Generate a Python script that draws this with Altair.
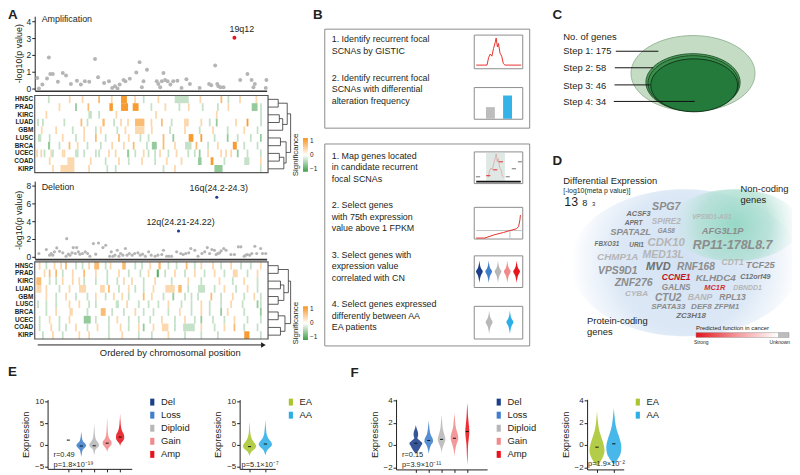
import altair as alt
import pandas as pd

# ------------------------------------------------------------------ data
CANCERS = ["HNSC", "PRAD", "KIRC", "LUAD", "GBM", "LUSC", "BRCA", "UCEC", "COAD", "KIRP"]

AMP_POS = [1.1, 1.8, 3.3, 5.3, 6.1, 6.7, 7.8, 10.0, 12.1, 13.5, 15.6, 18.2, 19.9, 21.6, 23.5, 26.0, 27.3, 29.9, 32.0, 33.4,
           34.6, 35.7, 36.6, 38.3, 39.1, 41.0, 43.8, 45.2, 46.2, 46.9, 48.4, 52.6, 53.3, 54.1, 54.8, 55.5, 56.2, 57.3, 58.5, 59.7,
           61.5, 63.3, 65.4, 66.9, 71.1, 75.2, 76.1, 77.8, 78.7, 79.2, 80.1, 81.4, 86.1, 88.6, 91.7, 93.5, 94.3, 94.9, 99.6, 99.9]
AMP_LOGP = [0.63, 0.0, 0.24, 0.6, 1.84, 0.86, 0.86, 0.4, 0.92, 0.78, 0.27, 0.47, 0.24, 0.43, 0.4, 1.76, 0.67, 0.33, 0.43, 0.04,
            0.14, 0.0, 0.24, 0.51, 0.43, 0.59, 0.96, 1.57, 0.08, 0.43, 1.12, 0.43, 0.27, 0.08, 0.43, 0.92, 0.51, 0.43, 0.24, 0.43,
            0.47, 0.04, 0.55, 0.27, 0.04, 0.27, 0.2, 1.37, 0.27, 0.14, 0.08, 0.08, 3.02, 0.51, 0.86, 0.51, 0.08, 0.27, 0.04, 0.51]
AMP_HIGHLIGHT = {"19q12": 52}

DEL_POS = [1.8, 5.0, 6.4, 7.1, 7.8, 8.5, 9.5, 10.7, 12.1, 13.5, 13.8, 14.5, 15.2, 16.1, 16.6, 17.5, 18.1, 18.8, 19.5, 20.6,
           21.8, 22.8, 23.8, 25.3, 26.3, 27.5, 29.4, 30.6, 32.3, 33.0, 33.7, 34.6, 35.6, 36.3, 37.0, 38.0, 39.1, 39.8, 40.8, 42.0,
           43.1, 44.5, 45.5, 46.5, 47.7, 49.1, 50.2, 51.9, 53.1, 54.8, 55.5, 56.9, 57.9, 59.0, 61.2, 62.0, 63.0, 64.0, 65.1, 66.4,
           67.3, 69.0, 70.4, 72.1, 73.3, 74.4, 75.4, 76.4, 77.5, 78.2, 78.5, 78.9, 79.7, 80.4, 81.5, 82.5, 84.6, 86.1, 87.8, 88.9,
           90.3, 91.0, 91.7, 92.7, 93.6, 94.9, 95.7, 97.4, 98.2, 99.6]
DEL_LOGP = [0.37, 0.82, 0.19, 0.37, 0.19, 0.56, 1.0, 0.63, 0.45, 0.07, 2.04, 0.3, 0.19, 0.45, 1.04, 0.37, 1.04, 0.56, 0.3, 0.37,
            0.56, 0.37, 0.07, 1.49, 0.3, 1.56, 1.04, 1.3, 0.07, 0.56, 0.07, 0.19, 0.74, 0.07, 0.37, 0.19, 0.93, 0.19, 0.37, 0.19,
            0.37, 0.45, 0.19, 0.3, 0.07, 0.56, 0.19, 0.07, 0.19, 0.26, 0.74, 0.07, 0.07, 0.07, 0.56, 2.9, 0.37, 0.26, 0.37, 0.45,
            0.93, 0.74, 0.07, 0.37, 0.56, 1.04, 0.37, 0.82, 0.74, 0.26, 6.69, 0.37, 0.45, 0.67, 0.93, 0.74, 0.26, 0.26, 1.12, 1.12,
            0.07, 0.19, 0.26, 0.19, 0.37, 1.19, 0.37, 0.93, 0.37, 0.37]
DEL_HIGHLIGHT = {"12q(24.21-24.22)": 55, "16q(24.2-24.3)": 70}

# heatmap significance codes: position[:code] or start-end:code along the chromosome order (0-100)
HEAT_LEVEL = {"1": 0.36, "2": 0.62, "3": 0.92, "a": -0.3, "b": -0.55, "c": -0.85}
AMP_HEAT = {
    "HNSC": "6:a 15:1 20.5:1 27.6:2 33:1 37-39.5:3 43:1 46.7:a 53:1 60-66:a 71:1 80:2 83:a 88:1 95:1",
    "PRAD": "10.6:1 17.7:b 23:2 32-33.5:3 37-40:3 42-44.5:3 50:a 56:1 62:a 66:1 72:a 78.5:a 83:1 93-95.5:b 97:a",
    "KIRC": "5:1 23-24.5:a 27.6:a 35:1 52:1 78:1 97:a",
    "LUAD": "1.4:a 3.5:a 12.7:a 20:2 22.6:a 29-30:2 34:a 37:1 40:1 43-47:2 50:1 54.5:2 58.7:a 64-66:1 71.4:1 75:a 78:b 86.3:1 91.2:3 97:a",
    "GBM": "3:1 9.2:1 16.3:a 21.2:1 26.2:a 28.3:1 35.4:a 38.9:1 43-47:1 50.2:1 58:a 64.4:1 70.7:a 76.4:1 82.7:a 89.8:1 95.5:a",
    "LUSC": "1.4-2.8:a 6.4:a 12:1 17.7:a 21.2:1 26.2:2 30.4:a 36.1:2 40.3:1 45.3:a 48.8:a 55.2:2 59.4:b 66-68:3 71.4:3 77.1:a 82.7:b 87:a 92.6:a 96.9:b",
    "BRCA": "5.7-6.6:b 10.6:a 14.9:2 18.4:1 22.6:a 28.3:a 33.2:1 38.2:1 42.4:2 48.1:a 50.2-52.3:b 55.2:2 60.1:1 64.4-67.2:a 69.3:2 74.3:a 78.5:1 84.9-86.6:3 89.8:a 95.5:a",
    "UCEC": "1:1 2.8:1 4.2:a 7.1:1 7.8:a 12:1 12.7:1 17.7:a 18.4:a 21.2:a 26.2:a 27.6:a 31.8:1 34.7:1 39.6-40.5:b 43.1:a 46.7:1 48.8:a 51.6:a 53.7:1 57.3:a 60.8:1 65.8:a 68.6:a 70.7:b 74.3:1 79.9:1 82:1 84.2:1 87:b 91.2:a 96.9:a",
    "COAD": "6.4:1 14-17:1 24:1 30.4:a 36.1:1 40.3:a 46:1 51.6:a 56.6:1 62.9:1 70-71.5:b 75.4-76.6:3 81.3:a 89.8-92:a 96.9:1",
    "KIRP": "7.8:1 11-17:1 23.3:1 31.1:a 34.7:a 55.2:a 60.1:1 77-80.5:b 96.9:a",
}
DEL_HEAT = {
    "HNSC": "2.1:1 5:a 8.5:1 11.3:1 13.4:2 17.7:a 20.5:a 23.3:1 25.5-27.6:2 30.4:a 32.5:1 37.5-39:2 43.1:a 46:a 49.5:1 53-54:2 57.3:a 60.8:a 65.1:2 68.6:a 71.4:1 76.4:1 79.9:a 84.2:1 88.4:a 92.6:a 96.9:1",
    "PRAD": "4.2:1 6.4:2 9.2:2 12:a 16.3:1 21.2:2 26.2:1 31.1:a 36.1:1 40.3:a 45.3:a 48.8:1 52.3-53.2:c 55.9:a 60.1:1 64.4:a 68.6:1 72.8:a 77.1:1 81.3:a 84.9-87:1 91.2:a 95.5:1",
    "KIRC": "0.7-2.8:2 6.4:a 9.2:a 12:1 16.3:1 19.1:1 21.2:a 26.2:a 31.1:a 35.4:a 38.2:1 41.7:1 46.7:a 51.6:1 58.7:a 65.8:1 71.4:a 79.2:1 84.9:a 89.8:1 95.5:a",
    "LUAD": "0.7-2.8:1 5:1 10.6:a 14.9:1 19-22:1 28-30:1 31.8:2 36.1:a 40.3:1 43.1:a 46.7:a 50.9:1 56-60:1 61.5-63:2 65.8:a 70-73:a 77.1:a 81.3:1 86.3:a 91.2:1 95.5:a",
    "GBM": "5:1 9.2:a 13.4:1 17.7:a 22.6:a 26.2:1 30.4:a 33.9:1 37.5:1 40.3:a 46.7:2 50.2:1 55.2:a 59.4:b 64.4:a 67.2:a 70:a 75.7:2 79.9:a 84.9:1 89.8:a 94.1:1 96.9:a",
    "LUSC": "1.4:a 5:a 9.2:a 14.9:1 19.1:1 23.3:a 26.2:a 34.7-36.1:a 39.6:1 44.6:a 48.8:a 53:a 57.3:1 62.9:a 67.2:a 71.4:1 75:a 79.9:a 84.2:1 89.1:a 95.5:b 96.9:a",
    "BRCA": "5:a 9.2:1 14.9-16.3:1 22.6:a 28.3-30.4:2 33.2:a 38.2:a 43.1:1 46.7:a 50.9:a 57.3:a 62.2:1 67.2:a 71.4:1 75:a 79.9:b 82.7:1 89.8:a 96.9:b",
    "UCEC": "2.1:a 6.4:1 10.6:a 14.9:1 21-24:b 26.2:a 31.8:a 35.4:1 40.3:a 44.6:a 49.5:a 54.5:1 60.1:a 64.4:1 68.6:a 71.4:b 76.4:a 81.3:a 85.6:1 91.2:a 96.9:a",
    "COAD": "2.1:a 7.1:1 10.6:a 13.4:a 17.7:1 22.6:a 26.9:1 31.8:a 36.8:1 40.3:a 44.6:1 46.7:b 50.9:1 54.5-57.3:1 60.1:a 63.6-68.6:a 71.4:1 77.1:a 81.3:1 85.6:2 89.8:a 95.5:a",
    "KIRP": "3.5:a 7.8:1 12:a 19.1:1 23.3:1 31.8:a 37.5:1 44.6:a 50.2:a 57.3:1 64.4:a 71.4:a 78.5:a 89.8-92:3 96.9:a",
}
# hierarchical clustering of cancer types: (left, right, merge height); merges referenced as m<index>
AMP_TREE = [("HNSC", "PRAD", 0.45), ("KIRC", "LUAD", 0.5), ("m1", "GBM", 0.65), ("m0", "m2", 0.85),
            ("LUSC", "BRCA", 0.55), ("UCEC", "COAD", 0.5), ("m5", "KIRP", 0.7), ("m4", "m6", 0.8), ("m3", "m7", 1.0)]
DEL_TREE = [("HNSC", "PRAD", 0.45), ("KIRC", "LUAD", 0.55), ("GBM", "LUSC", 0.45), ("m1", "m2", 0.7),
            ("m0", "m3", 0.9), ("BRCA", "UCEC", 0.45), ("COAD", "KIRP", 0.55), ("m5", "m6", 0.75), ("m4", "m7", 1.0)]

B_STEPS_SCNA = ["1. Identify recurrent focal\nSCNAs by GISTIC",
                "2. Identify recurrent focal\nSCNAs with differential\nalteration frequency"]
B_STEPS_GENE = ["1. Map genes located\nin candidate recurrent\nfocal SCNAs",
                "2. Select genes\nwith 75th expression\nvalue above 1 FPKM",
                "3. Select genes with\nexpression value\ncorrelated with CN",
                "4. Select genes expressed\ndifferently between AA\nEA patients"]
GISTIC_X = [0, 33, 38, 43, 48, 53, 58, 61, 65, 68, 73, 78, 83, 88, 138]
GISTIC_Y = [0, 0, 0.28, 0.41, 0.33, 0.61, 0.83, 1.0, 0.67, 0.8, 0.44, 0.33, 0.06, 0, 0]
FREQ_GROUPS = ["EA", "AA"]
FREQ_VALUES = [0.5, 1.0]
MAP_GENE_X = [0.06, 0.28, 0.43, 0.55, 0.70, 0.83, 0.96]
MAP_GENE_CN = [0.14, 0.18, 0.39, 0.68, 0.14, 0.43, 0.68]
MAP_GENE_IN = [False, True, True, True, False, False, False]
FPKM_RANK = [0, 0.19, 0.4, 0.6, 0.74, 0.88, 0.93, 0.96, 0.97]
FPKM_VALUE = [0, 0, 0.44, 0.74, 1.0, 1.22, 1.54, 2.41, 3.07]
FPKM_CUTOFF = 1.0

STEP_COUNTS = [175, 58, 46, 34]

GENES = ["SPG7", "ACSF3", "APRT", "SPIRE2", "SPATA2L", "GAS8", "FBXO31", "URI1", "CDK10", "CHMP1A", "MED13L",
         "VPS9D1", "MVD", "RNF168", "CDT1", "TCF25", "ZNF276", "CCNE1", "KLHDC4", "C12orf49", "GALNS", "MC1R",
         "DBNDD1", "CYBA", "CTU2", "BANP", "RPL13", "SPATA33", "DEF8", "ZFPM1", "ZC3H18", "VPS9D1-AS1", "AFG3L1P",
         "RP11-178L8.7"]
GENE_SIG = [10.4, 5.2, 4.1, 6.5, 8.4, 3.6, 3.6, 3.8, 11.5, 9.0, 10.1, 9.8, 11.0, 9.6, 7.0, 8.5, 10.1, 7.0, 9.2, 4.8,
            6.5, 5.3, 4.4, 6.4, 9.5, 7.3, 7.0, 6.2, 6.4, 5.6, 6.2, 3.8, 8.2, 13.0]
GENE_FUNC = ["mid", "dark", "dark", "light", "mid", "mid", "dark", "dark", "light", "light", "light",
             "mid", "dark", "mid", "light", "mid", "mid", "strong", "mid", "dark", "mid", "moderate",
             "light", "light", "mid", "light", "mid", "mid", "mid", "mid", "dark", "light", "mid", "mid"]
SIG_KEY = [13, 8, 3]

CN_GROUPS = ["Del", "Loss", "Diploid", "Gain", "Amp"]
RACE_GROUPS = ["EA", "AA"]
# violin outlines: (expression, half width in category units)
E_CN_PROFILE = {
    "Del": [],
    "Loss": [(-2.8, 0), (-2.0, 0.04), (-1.2, 0.1), (-0.6, 0.28), (-0.2, 0.38), (0.3, 0.3), (0.8, 0.14), (1.5, 0.06), (2.3, 0.03), (3.0, 0)],
    "Diploid": [(-2.4, 0), (-1.6, 0.05), (-0.9, 0.14), (-0.4, 0.33), (0.0, 0.38), (0.5, 0.3), (1.2, 0.14), (2.2, 0.06), (3.5, 0.03), (4.8, 0)],
    "Gain": [(-1.7, 0), (-1.0, 0.06), (-0.4, 0.2), (0.2, 0.34), (0.7, 0.34), (1.3, 0.2), (2.2, 0.08), (3.5, 0.04), (5.0, 0.02), (6.3, 0)],
    "Amp": [(-0.3, 0), (0.3, 0.06), (0.9, 0.22), (1.6, 0.32), (2.3, 0.3), (3.0, 0.18), (3.8, 0.09), (5.0, 0.04), (7.2, 0)],
}
E_CN_MEDIAN = [1.1, -0.25, -0.2, 0.4, 1.8]
E_RACE_PROFILE = {
    "EA": [(-2.6, 0), (-2.0, 0.05), (-1.4, 0.16), (-0.8, 0.35), (-0.3, 0.42), (0.3, 0.34), (1.0, 0.2), (1.8, 0.1), (3.0, 0.04), (4.3, 0.02), (5.4, 0)],
    "AA": [(-2.4, 0), (-1.8, 0.05), (-1.1, 0.14), (-0.5, 0.32), (0.1, 0.42), (0.7, 0.35), (1.4, 0.2), (2.2, 0.1), (3.3, 0.05), (4.6, 0.02), (5.8, 0)],
}
E_RACE_MEDIAN = [-0.4, 0.2]
F_CN_PROFILE = {
    "Del": [(-0.8, 0), (-0.5, 0.2), (-0.1, 0.4), (0.15, 0.5), (0.4, 0.3), (0.6, 0.12), (0.9, 0.18), (1.2, 0.15), (1.5, 0.06), (1.8, 0)],
    "Loss": [(-0.8, 0), (-0.4, 0.06), (0.0, 0.18), (0.3, 0.34), (0.6, 0.3), (0.9, 0.16), (1.3, 0.08), (1.7, 0.04), (2.2, 0)],
    "Diploid": [(-0.8, 0), (-0.3, 0.06), (0.1, 0.2), (0.5, 0.3), (0.9, 0.22), (1.4, 0.1), (2.0, 0.05), (2.7, 0)],
    "Gain": [(-1.1, 0), (-0.5, 0.05), (0.1, 0.18), (0.6, 0.3), (1.0, 0.25), (1.5, 0.12), (2.2, 0.05), (2.9, 0)],
    "Amp": [(-1.75, 0), (-1.0, 0.03), (0.0, 0.06), (0.6, 0.12), (1.2, 0.16), (1.8, 0.12), (2.5, 0.06), (3.2, 0.03), (3.8, 0)],
}
F_CN_MEDIAN = [0.15, 0.4, 0.5, 0.6, 1.2]
F_RACE_PROFILE = {
    "EA": [(-1.9, 0), (-1.5, 0.2), (-1.0, 0.38), (-0.5, 0.45), (0.0, 0.4), (0.6, 0.28), (1.2, 0.15), (2.0, 0.06), (3.1, 0)],
    "AA": [(-1.75, 0), (-1.3, 0.22), (-0.8, 0.4), (-0.2, 0.45), (0.4, 0.38), (1.0, 0.25), (1.7, 0.12), (2.5, 0.05), (3.3, 0)],
}
F_RACE_MEDIAN = [-0.2, 0.1]
E_CN_STATS = ["r=0.49", "p=1.8×10⁻¹⁹"]
E_RACE_STATS = ["p=5.1×10⁻⁷"]
F_CN_STATS = ["r=0.15", "p=3.9×10⁻¹¹"]
F_RACE_STATS = ["p=1.9×10⁻²"]

# ------------------------------------------------------------------ style / layout
OFF = 8
W, H = 792, 467
FONT = "Liberation Sans"
INK = "#231f20"
ORANGE, GREEN = "#f7931e", "#3f9e4a"
CN_COLORS = ["#1b3f8b", "#3f7fcb", "#b7b7b7", "#f28a8c", "#e8141c"]
RACE_COLORS = ["#a9c62f", "#2eaee6"]
FUNC_CLASSES = ["strong", "moderate", "dark", "mid", "light"]
FUNC_COLORS = ["#c3121d", "#cf2f37", "#6f6f6f", "#8c8c8c", "#b5b5b5"]
SWATCH = "M-0.6,-1 L0.6,-1 L0.6,1 L-0.6,1 Z"
VIOLIN_GLYPH = ("M0,-1 C0.04,-0.6 0.08,-0.35 0.26,-0.12 C0.36,0 0.26,0.12 0.15,0.3 "
                "C0.07,0.5 0.03,0.75 0,1 C-0.03,0.75 -0.07,0.5 -0.15,0.3 C-0.26,0.12 -0.36,0 -0.26,-0.12 "
                "C-0.08,-0.35 -0.04,-0.6 0,-1 Z")
THIN = 0.38  # half width of a single heat-map bar, chromosome-order units


def ellipse_path(r):
    k = 0.5523
    return (f"M-1,0 C-1,{-k*r:.3f} {-k:.3f},{-r:.3f} 0,{-r:.3f} C{k:.3f},{-r:.3f} 1,{-k*r:.3f} 1,0 "
            f"C1,{k*r:.3f} {k:.3f},{r:.3f} 0,{r:.3f} C{-k:.3f},{r:.3f} -1,{k*r:.3f} -1,0 Z")


def lin(domain, p0, p1):
    return alt.Scale(domain=list(domain), range=[p0 - OFF, p1 - OFF], nice=False, zero=False)


PXX = alt.Scale(domain=[OFF, OFF + W], range=[0, W], nice=False, zero=False)
PXY = alt.Scale(domain=[OFF, OFF + H], range=[0, H], nice=False, zero=False)
ONE = pd.DataFrame({"k": [0]})


def texts(rows, size=9, color=INK, align="left", baseline="middle", weight="normal", style="normal", line_height=None):
    df = pd.DataFrame(rows, columns=["x", "y", "t"])
    kw = dict(font=FONT, fontSize=size, color=color, align=align, baseline=baseline, fontWeight=weight, fontStyle=style)
    if line_height:
        kw.update(lineBreak="\n", lineHeight=line_height)
    return alt.Chart(df).mark_text(**kw).encode(
        x=alt.X("x:Q", scale=PXX, axis=None), y=alt.Y("y:Q", scale=PXY, axis=None), text="t:N")


def frames(rows, stroke="#8c8c8c", width=1.0):
    df = pd.DataFrame(rows, columns=["x0", "y0", "x1", "y1"])
    return alt.Chart(df).mark_rect(fill="transparent", stroke=stroke, strokeWidth=width).encode(
        x=alt.X("x0:Q", scale=PXX, axis=None), x2="x1:Q", y=alt.Y("y0:Q", scale=PXY, axis=None), y2="y1:Q")


def segments(rows, color=INK, width=1.0):
    df = pd.DataFrame(rows, columns=["x0", "y0", "x1", "y1"])
    return alt.Chart(df).mark_rule(color=color, strokeWidth=width).encode(
        x=alt.X("x0:Q", scale=PXX, axis=None), x2="x1:Q", y=alt.Y("y0:Q", scale=PXY, axis=None), y2="y1:Q")


def heat_df(rows):
    recs = []
    for cancer, spec in rows.items():
        for tok in spec.split():
            span, code = tok.split(":")
            if "-" in span:
                a, b = (float(s) for s in span.split("-"))
            else:
                c = float(span)
                a, b = c - THIN, c + THIN
            recs.append({"cancer": cancer, "x0": a, "x1": b, "v": HEAT_LEVEL[code]})
    return pd.DataFrame(recs)


def tree_df(merges):
    ypos = {c: float(i) for i, c in enumerate(CANCERS)}
    hgt = {c: 0.0 for c in CANCERS}
    segs = []
    for k, (a, b, h) in enumerate(merges):
        for n in (a, b):
            segs.append({"x0": hgt[n], "x1": h, "y0": ypos[n], "y1": ypos[n]})
        segs.append({"x0": h, "x1": h, "y0": ypos[a], "y1": ypos[b]})
        ypos[f"m{k}"] = (ypos[a] + ypos[b]) / 2
        hgt[f"m{k}"] = h
    return pd.DataFrame(segs)


layers = []

# ---------------- panel letters
layers.append(texts([(8, 13, "A"), (316, 13, "B"), (558, 13, "C"), (558, 160, "D"), (8, 373, "E"), (354, 374, "F")],
                    size=13.5, weight="bold"))


# ---------------- panel A
def scatter(pos, logp, hits, ydom, ypx, ticks, size, hit_color, dx, align):
    df = pd.DataFrame({"pos": pos, "logp": logp})
    df["kind"] = "other"
    df["label"] = ""
    for name, i in hits.items():
        df.loc[i, "kind"] = "hit"
        df.loc[i, "label"] = name
    xs = lin((0, 100), 35, 269.3)
    ys = lin(ydom, *ypx)
    pts = alt.Chart(df).mark_circle(size=size, opacity=1).encode(
        x=alt.X("pos:Q", scale=xs, axis=alt.Axis(orient="bottom", offset=(ypx[0] + 0.5 - OFF) - H, labels=False,
                                                 ticks=False, title=None, domainWidth=1.6, domainColor="#333")),
        y=alt.Y("logp:Q", scale=ys, axis=alt.Axis(orient="left", offset=-(35 - OFF), values=ticks, title="-log10(p value)",
                                                  titleFontSize=9, titleFontWeight="normal", labelFontSize=8.5,
                                                  tickSize=3, labelPadding=1, titlePadding=3)),
        color=alt.Color("kind:N", scale=alt.Scale(domain=["other", "hit"], range=["#b5b5b5", hit_color]), legend=None))
    lab = alt.Chart(df).transform_filter(alt.datum.label != "").mark_text(
        font=FONT, fontSize=9, color=INK, dy=-9, dx=dx, align=align).encode(
        x=alt.X("pos:Q", scale=xs, axis=None), y=alt.Y("logp:Q", scale=ys, axis=None), text="label:N")
    return [pts, lab]


def heat(rows, top, bottom, legend_y):
    return alt.Chart(heat_df(rows)).mark_rect().encode(
        x=alt.X("x0:Q", scale=lin((0, 100), 35, 270.7), axis=None), x2="x1:Q",
        y=alt.Y("cancer:N", scale=alt.Scale(domain=CANCERS, range=[top - OFF, bottom - OFF], paddingInner=0, paddingOuter=0),
                axis=alt.Axis(orient="left", offset=-(35 - OFF), domain=False, ticks=False, title=None,
                              labelFontSize=6.5, labelFontWeight="bold", labelPadding=2)),
        color=alt.Color("v:Q", scale=alt.Scale(domain=[-1, 0, 1], range=[GREEN, "#ffffff", ORANGE], interpolate="rgb"),
                        legend=alt.Legend(orient="none", legendX=295 - OFF, legendY=legend_y - OFF, direction="vertical",
                                          title="Significance", titleOrient="left", titleAnchor="middle",
                                          titleFontSize=8, titleFontWeight="normal", titlePadding=2,
                                          gradientLength=34, gradientThickness=5, gradientStrokeWidth=0,
                                          labelFontSize=6.5, labelOffset=2, values=[-1, 0, 1], padding=0)))


def tree(merges, top, bottom):
    return alt.Chart(tree_df(merges)).mark_rule(color="#333", strokeWidth=0.8).encode(
        x=alt.X("x0:Q", scale=lin((0, 1), 270.7, 293.5), axis=None), x2="x1:Q",
        y=alt.Y("y0:Q", scale=lin((-0.5, 9.5), top, bottom), axis=None), y2="y1:Q")


layers += scatter(AMP_POS, AMP_LOGP, AMP_HIGHLIGHT, (-0.1, 4.3), (88.7, 13.9), [0, 1, 2, 3, 4], 16, "#e3151d", -5, "left")
layers.append(heat(AMP_HEAT, 94, 172, 137))
layers.append(tree(AMP_TREE, 94, 172))
layers += scatter(DEL_POS, DEL_LOGP, DEL_HIGHLIGHT, (-0.2, 8.5), (258.8, 180.5), [0, 2, 4, 6, 8], 10, "#1c3c94", 2, "center")
layers.append(heat(DEL_HEAT, 262, 340, 307))
layers.append(tree(DEL_TREE, 262, 340))
layers.append(frames([(35, 94, 270.7, 172), (35, 262, 270.7, 340)], stroke="#555", width=1.2))
layers.append(texts([(42, 17, "Amplification"), (42, 186, "Deletion")], size=9))
layers.append(segments([(38, 346, 264, 346)], width=1))
layers.append(alt.Chart(ONE).mark_point(shape="triangle-right", filled=True, size=30, color=INK, opacity=1).encode(
    x=alt.value(266 - OFF), y=alt.value(346 - OFF)))
layers.append(texts([(172, 354, "Ordered by chromosomal position")], size=9.5, align="center"))

# ---------------- panel B
layers.append(frames([(328, 27, 535, 127), (328, 143, 535, 347)], stroke="#8c8c8c", width=1))
layers.append(frames([(479, 33, 528, 67), (479, 86, 528, 118), (479, 151, 528, 183), (479, 207, 528, 239),
                      (479, 256, 528, 288), (479, 307, 528, 340)], stroke="#8c8c8c", width=1))
layers.append(texts([(335, 33, B_STEPS_SCNA[0]), (335, 72, B_STEPS_SCNA[1])], size=9, baseline="top", line_height=11.6))
layers.append(texts([(335, 151, B_STEPS_GENE[0]), (335, 201, B_STEPS_GENE[1]), (335, 251, B_STEPS_GENE[2]),
                     (335, 301, B_STEPS_GENE[3])], size=9, baseline="top", line_height=11.6))

gistic = pd.DataFrame({"x": GISTIC_X, "y": GISTIC_Y})
layers.append(alt.Chart(gistic).mark_line(color="#e8302a", strokeWidth=1).encode(
    x=alt.X("x:Q", scale=lin((0, 138), 481, 526.5), axis=None), y=alt.Y("y:Q", scale=lin((0, 1), 63.3, 36), axis=None)))
freq = pd.DataFrame({"g": FREQ_GROUPS, "i": [1, 2], "f": FREQ_VALUES})
layers.append(alt.Chart(freq).mark_bar(orient="vertical", size=9).encode(
    x=alt.X("i:Q", scale=lin((0.4, 2.6), 480, 528), axis=None), y=alt.Y("f:Q", scale=lin((0, 1), 117.5, 94), axis=None),
    color=alt.Color("g:N", scale=alt.Scale(domain=FREQ_GROUPS, range=["#bdbdbd", "#35b2e8"]), legend=None)))
# icon 3: peak region with genes
layers.append(alt.Chart(gistic).transform_filter("datum.x >= 28 && datum.x <= 95").mark_line(
    color="#e8302a", strokeWidth=1, opacity=0.6).encode(
    x=alt.X("x:Q", scale=lin((0, 138), 483.4, 523.5), axis=None), y=alt.Y("y:Q", scale=lin((0, 1), 177, 153), axis=None)))
layers.append(alt.Chart(ONE).mark_rect(color="#c9d9d2", opacity=0.6).encode(
    x=alt.value(491 - OFF), x2=alt.value(510 - OFF), y=alt.value(152 - OFF), y2=alt.value(180 - OFF)))
mg = pd.DataFrame({"x0": [v - 0.045 for v in MAP_GENE_X], "x1": [v + 0.045 for v in MAP_GENE_X],
                   "cn": MAP_GENE_CN, "inside": ["in" if b else "out" for b in MAP_GENE_IN]})
layers.append(alt.Chart(mg).mark_rule(strokeWidth=1.2).encode(
    x=alt.X("x0:Q", scale=lin((0, 1), 480, 527), axis=None), x2="x1:Q",
    y=alt.Y("cn:Q", scale=lin((0, 1), 180, 152), axis=None),
    color=alt.Color("inside:N", scale=alt.Scale(domain=["in", "out"], range=["#e0474c", "#8a8a8a"]), legend=None)))
layers.append(segments([(481, 181, 526, 181)], color="#111", width=1.6))
# icon 4: 75th percentile expression
fp = pd.DataFrame({"r": FPKM_RANK, "v": FPKM_VALUE})
fpx, fpy = lin((0, 1), 481, 527), lin((0, 3.3), 238, 213)
cross = FPKM_RANK[FPKM_VALUE.index(FPKM_CUTOFF)]
ref = pd.DataFrame({"x0": [0, cross], "x1": [1, cross], "y0": [FPKM_CUTOFF, 0], "y1": [FPKM_CUTOFF, FPKM_CUTOFF]})
layers.append(alt.Chart(ref).mark_rule(color="#b0b0b0", strokeWidth=0.8).encode(
    x=alt.X("x0:Q", scale=fpx, axis=None), x2="x1:Q", y=alt.Y("y0:Q", scale=fpy, axis=None), y2="y1:Q"))
layers.append(alt.Chart(fp).mark_line(color="#e8302a", strokeWidth=1).encode(
    x=alt.X("r:Q", scale=fpx, axis=None), y=alt.Y("v:Q", scale=fpy, axis=None)))
# icon 5 / 6: mini violins
cn_icon = pd.DataFrame({"g": CN_GROUPS, "i": [1, 2, 3, 4, 5]})
layers.append(alt.Chart(cn_icon).mark_point(shape=VIOLIN_GLYPH, filled=True, size=520, opacity=1).encode(
    x=alt.X("i:Q", scale=lin((0.5, 5.5), 479.5, 526.5), axis=None), y=alt.value(272 - OFF),
    color=alt.Color("g:N", scale=alt.Scale(domain=CN_GROUPS, range=CN_COLORS), legend=None)))
race_icon = pd.DataFrame({"g": RACE_GROUPS, "i": [1, 2]})
layers.append(alt.Chart(race_icon).mark_point(shape=VIOLIN_GLYPH, filled=True, size=560, opacity=1).encode(
    x=alt.X("i:Q", scale=lin((0.33, 2.57), 480, 527), axis=None), y=alt.value(323 - OFF),
    color=alt.Color("g:N", scale=alt.Scale(domain=RACE_GROUPS, range=["#b8b8b8", "#2eaee6"]), legend=None)))

# ---------------- panel C
steps = [f"Step {i + 1}" for i in range(len(STEP_COUNTS))]
cdf = pd.DataFrame({"step": steps, "n": STEP_COUNTS, "cx": [700, 700, 700.3, 701.2], "cy": [71.7, 80.8, 81.7, 83.7]})
layers.append(alt.Chart(cdf).mark_point(shape=ellipse_path(0.61), filled=True, opacity=1, strokeWidth=0.9).encode(
    x=alt.X("cx:Q", scale=PXX, axis=None), y=alt.Y("cy:Q", scale=PXY, axis=None),
    size=alt.Size("n:Q", scale=alt.Scale(domain=[34, 175], range=[87.7 ** 2, 125.3 ** 2], zero=False), legend=None),
    fill=alt.Fill("step:N", scale=alt.Scale(domain=steps, range=["#c4dcc4", "#4c9c59", "#3a8e4c", "#237a3b"]), legend=None),
    stroke=alt.Stroke("step:N", scale=alt.Scale(domain=steps, range=["#93b393", "#1f4d28", "#1a4523", "#0f2e17"]), legend=None)))
c_labels = [f"{s}: {n}" for s, n in zip(steps, STEP_COUNTS)]
layers.append(texts([(569, 35, "No. of genes"), (569, 49.3, c_labels[0]), (569, 66.5, c_labels[1]),
                     (569, 84, c_labels[2]), (569, 100.7, c_labels[3])], size=9.5))
layers.append(segments([(622, 49.3, 665, 49.3), (621, 66, 660, 66), (620.7, 83.3, 656.7, 83.3), (620, 100, 701.7, 100)],
                       color="#111", width=1))

# ---------------- panel D
blue_blob = alt.RadialGradient(gradient="radial", stops=[
    alt.GradientStop(color="#d3e2f3", offset=0), alt.GradientStop(color="#dce8f6", offset=0.6),
    alt.GradientStop(color="#ffffff", offset=1)])
teal_blob = alt.RadialGradient(gradient="radial", stops=[
    alt.GradientStop(color="rgba(150,216,198,1)", offset=0), alt.GradientStop(color="rgba(172,222,208,0.75)", offset=0.55),
    alt.GradientStop(color="rgba(205,234,230,0)", offset=1)])
layers.append(alt.Chart(ONE).mark_point(shape=ellipse_path(0.64), filled=True, fill=blue_blob, size=232 ** 2, opacity=1,
                                        strokeOpacity=0).encode(x=alt.value(692 - OFF), y=alt.value(263 - OFF)))
layers.append(alt.Chart(ONE).mark_point(shape=ellipse_path(0.55), filled=True, fill=teal_blob, size=132 ** 2, opacity=1,
                                        strokeOpacity=0).encode(x=alt.value(742 - OFF), y=alt.value(225 - OFF)))
GENE_XY = [(673, 207), (645, 214), (640, 222.5), (673, 222), (637, 232), (673, 231), (613, 244), (643, 245), (673, 243),
           (624, 257), (670, 255), (624, 271), (665, 267), (703, 267), (740, 262), (768, 265), (640, 283), (683, 277),
           (723, 278), (763, 277), (683, 288.5), (722, 288.5), (755, 288.5), (643, 295), (675, 299), (707, 298),
           (740, 298), (675, 308), (708.5, 308), (734, 308), (698, 317), (719, 217), (730, 231), (740, 245)]
WORD_SIZE = alt.Scale(domain=[3, 13], range=[6, 12.5])
gdf = pd.DataFrame({"gene": GENES, "sig": GENE_SIG, "func": GENE_FUNC,
                    "x": [p[0] for p in GENE_XY], "y": [p[1] for p in GENE_XY]})
layers.append(alt.Chart(gdf).mark_text(font=FONT, fontWeight="bold", fontStyle="italic", align="center",
                                       baseline="middle").encode(
    x=alt.X("x:Q", scale=PXX, axis=None), y=alt.Y("y:Q", scale=PXY, axis=None), text="gene:N",
    size=alt.Size("sig:Q", scale=WORD_SIZE, legend=None),
    color=alt.Color("func:N", scale=alt.Scale(domain=FUNC_CLASSES, range=FUNC_COLORS), legend=None)))
key = pd.DataFrame({"sig": SIG_KEY, "x": [570, 588, 598], "y": [206, 206, 206]})
layers.append(alt.Chart(key).mark_text(font=FONT, align="left", baseline="alphabetic", color=INK).encode(
    x=alt.X("x:Q", scale=PXX, axis=None), y=alt.Y("y:Q", scale=PXY, axis=None), text="sig:N",
    size=alt.Size("sig:Q", scale=WORD_SIZE, legend=None)))
layers.append(texts([(569, 180, "Differential Expression"), (748, 188, "Non-coding"), (748, 200, "genes"),
                     (593, 321.7, "Protein-coding"), (593, 333.3, "genes")], size=9.5))
layers.append(texts([(569, 190.5, "[-log10(meta p value)]")], size=7))
layers.append(texts([(703, 328.7, "Predicted function in cancer")], size=6))
layers.append(texts([(701, 343, "Strong")], size=5))
layers.append(texts([(798, 343, "Unknown")], size=5, align="right"))
func_grad = alt.LinearGradient(gradient="linear", x1=0, x2=1, y1=0, y2=0, stops=[
    alt.GradientStop(color="#e3141b", offset=0), alt.GradientStop(color="#f49a9d", offset=0.45),
    alt.GradientStop(color="#ffffff", offset=0.88), alt.GradientStop(color="#bdbdbd", offset=0.885),
    alt.GradientStop(color="#bdbdbd", offset=1)])
layers.append(alt.Chart(ONE).mark_rect(fill=func_grad, stroke="#9a9a9a", strokeWidth=0.5).encode(
    x=alt.value(703 - OFF), x2=alt.value(797 - OFF), y=alt.value(333.5 - OFF), y2=alt.value(338.5 - OFF)))


# ---------------- panels E / F
def violins(groups, colors, profiles, medians, x_dom, x_px, y_dom, y_px, y_ticks, legend_x, half):
    xs, ys = lin(x_dom, *x_px), lin(y_dom, *y_px)
    recs = []
    for i, g in enumerate(groups, start=1):
        for v, hw in profiles.get(g, []):
            recs.append({"g": g, "v": v, "lo": i - hw, "hi": i + hw})
    df = pd.DataFrame(recs)
    area = alt.Chart(df).mark_area(orient="horizontal", opacity=0.88, interpolate="monotone").encode(
        y=alt.Y("v:Q", scale=ys, axis=alt.Axis(orient="left", offset=-(x_px[0] - OFF), values=y_ticks, title="Expression",
                                               titleFontSize=9.5, titleFontWeight="normal", labelFontSize=8,
                                               tickSize=3, labelPadding=1, titlePadding=4)),
        x=alt.X("lo:Q", scale=xs, axis=alt.Axis(orient="bottom", offset=(y_px[0] - OFF) - H,
                                                values=list(range(1, len(groups) + 1)), labels=False, title=None,
                                                tickSize=3)),
        x2="hi:Q",
        color=alt.Color("g:N", scale=alt.Scale(domain=groups, range=colors),
                        legend=alt.Legend(orient="none", legendX=legend_x - OFF, legendY=399 - OFF, title=None,
                                          symbolType=SWATCH, symbolSize=49, symbolStrokeWidth=0, symbolOpacity=1,
                                          labelFontSize=9.5, rowPadding=2.2, labelOffset=4, padding=0)),
        detail="g:N")
    med = pd.DataFrame({"g": groups, "m": medians,
                        "lo": [i + 1 - half for i in range(len(groups))], "hi": [i + 1 + half for i in range(len(groups))]})
    medl = alt.Chart(med).mark_rule(color="#111", strokeWidth=1).encode(
        x=alt.X("lo:Q", scale=xs, axis=None), x2="hi:Q", y=alt.Y("m:Q", scale=ys, axis=None))
    return [area, medl]


E_YDOM, E_YPX = (-5.5, 10.4), (471.2, 401.2)
F_YDOM, F_YPX = (-2.2, 4.1), (471.75, 400.9)
layers += violins(CN_GROUPS, CN_COLORS, E_CN_PROFILE, E_CN_MEDIAN, (-0.6, 5.9), (48, 133), E_YDOM, E_YPX,
                  [-5, 0, 5, 10], 149, 0.12)
layers += violins(RACE_GROUPS, RACE_COLORS, E_RACE_PROFILE, E_RACE_MEDIAN, (0.375, 2.625), (242, 278), E_YDOM, E_YPX,
                  [-5, 0, 5, 10], 289, 0.1)
layers += violins(CN_GROUPS, CN_COLORS, F_CN_PROFILE, F_CN_MEDIAN, (-0.54, 6.54), (400, 492), F_YDOM, F_YPX,
                  [-2, 0, 2, 4], 499, 0.12)
layers += violins(RACE_GROUPS, RACE_COLORS, F_RACE_PROFILE, F_RACE_MEDIAN, (0.41, 2.59), (593, 630), F_YDOM, F_YPX,
                  [-2, 0, 2, 4], 639.5, 0.1)
layers.append(texts([(54, 457, E_CN_STATS[0]), (54, 467, E_CN_STATS[1]), (244, 467, E_RACE_STATS[0]),
                     (406, 457, F_CN_STATS[0]), (406, 467, F_CN_STATS[1]), (594, 466, F_RACE_STATS[0])], size=7.5))

chart = alt.layer(*layers).resolve_scale(
    x="independent", y="independent", color="independent", size="independent", fill="independent", stroke="independent"
).properties(
    width=W, height=H, autosize=alt.AutoSizeParams(type="none"), padding=0
).configure_view(stroke=None).configure_axis(
    grid=False, labelFont=FONT, titleFont=FONT, labelColor=INK, titleColor=INK, domainColor=INK, tickColor=INK
).configure_legend(labelFont=FONT, titleFont=FONT, labelColor=INK, titleColor=INK)

chart.save("out.html", embed_options={"renderer": "svg", "actions": False})
